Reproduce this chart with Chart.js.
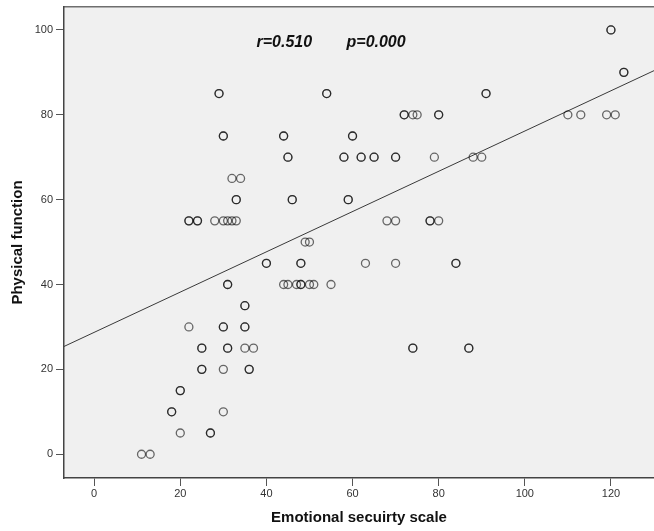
<!DOCTYPE html>
<html>
<head>
<meta charset="utf-8">
<script src="https://cdn.jsdelivr.net/npm/chart.js@4/dist/chart.umd.min.js"></script>
<style>
  html, body { margin: 0; padding: 0; background: #ffffff; }
  #wrap { width: 654px; height: 531px; }
</style>
</head>
<body>
<div id="wrap"><canvas id="c" width="654" height="531"></canvas></div>
<script>
// Emotional security scale (x) and Physical function (y); repeated pairs are overlapping observations
const emotionalSecurity = [
  120,120, 123,123,
  29,29, 54,54, 91,91,
  72,72, 74, 75, 80,80, 110, 113, 119, 121,
  30,30, 44,44, 60,60,
  45,45, 58,58, 62,62, 65,65, 70,70, 79, 88, 90,
  32, 34,
  33,33, 46,46, 59,59,
  22,22, 24,24, 28, 30, 31, 32, 33, 68, 70, 78,78, 80,
  49, 50,
  40,40, 48,48, 63, 70, 84,84,
  31,31, 44, 45, 47, 48,48, 50, 51, 55,
  35,35,
  22, 30,30, 35,35,
  25,25, 31,31, 35, 37, 74,74, 87,87,
  25,25, 30, 36,36,
  20,20,
  18,18, 30,
  20, 27,27,
  11, 13
];
const physicalFunction = [
  100,100, 90,90,
  85,85, 85,85, 85,85,
  80,80, 80, 80, 80,80, 80, 80, 80, 80,
  75,75, 75,75, 75,75,
  70,70, 70,70, 70,70, 70,70, 70,70, 70, 70, 70,
  65, 65,
  60,60, 60,60, 60,60,
  55,55, 55,55, 55, 55, 55, 55, 55, 55, 55, 55,55, 55,
  50, 50,
  45,45, 45,45, 45, 45, 45,45,
  40,40, 40, 40, 40, 40,40, 40, 40, 40,
  35,35,
  30, 30,30, 30,30,
  25,25, 25,25, 25, 25, 25,25, 25,25,
  20,20, 20, 20,20,
  15,15,
  10,10, 10,
  5, 5,5,
  0, 0
];
// Fit line end points
const fitLineX = [-7, 130];
const fitLineY = [25.4, 90.4];
// Axis ranges and ticks
const xRange = [-7, 130];
const yRange = [-5.6, 105.4];
const xTickValues = [0, 20, 40, 60, 80, 100, 120];
const yTickValues = [0, 20, 40, 60, 80, 100];
// Annotation
const annotationText = ['r=0.510', 'p=0.000'];
const annotationX = [37.7, 58.6];
const annotationY = 95.9;
const xTitle = 'Emotional secuirty scale';
const yTitle = 'Physical function';

const points = emotionalSecurity.map((x, i) => ({x: x, y: physicalFunction[i]}));
const fitPoints = fitLineX.map((x, i) => ({x: x, y: fitLineY[i]}));

const FONT = '"Liberation Sans", Arial, Helvetica, sans-serif';

const plotBg = {
  id: 'plotBg',
  beforeDraw(chart) {
    const {ctx, chartArea: a} = chart;
    ctx.save();
    ctx.fillStyle = '#f0f0f0';
    ctx.fillRect(a.left, a.top, a.right - a.left, a.bottom - a.top);
    ctx.strokeStyle = '#6e6e6e';
    ctx.lineWidth = 1.5;
    ctx.beginPath();
    ctx.moveTo(a.left, a.top - 0.25);
    ctx.lineTo(a.right, a.top - 0.25);
    ctx.stroke();
    ctx.restore();
  },
  afterDatasetsDraw(chart) {
    const {ctx} = chart;
    const xs = chart.scales.x, ys = chart.scales.y;
    ctx.save();
    ctx.fillStyle = '#111';
    ctx.font = 'italic bold 16px ' + FONT;
    ctx.textBaseline = 'alphabetic';
    ctx.textAlign = 'left';
    annotationText.forEach((t, i) => {
      ctx.fillText(t, xs.getPixelForValue(annotationX[i]), ys.getPixelForValue(annotationY));
    });
    ctx.restore();
  }
};

new Chart(document.getElementById('c'), {
  type: 'scatter',
  data: {
    datasets: [
      {
        type: 'line',
        data: fitPoints,
        borderColor: '#3a3a3a',
        borderWidth: 1,
        pointRadius: 0,
        fill: false,
        order: 2
      },
      {
        data: points,
        pointStyle: 'circle',
        pointRadius: 4,
        pointBorderWidth: 1.3,
        pointBackgroundColor: 'rgba(0,0,0,0)',
        pointBorderColor: 'rgba(0,0,0,0.58)',
        order: 1
      }
    ]
  },
  options: {
    responsive: false,
    animation: false,
    layout: { autoPadding: false, padding: { top: 7, right: 0, bottom: 0, left: 0 } },
    plugins: { legend: { display: false }, tooltip: { enabled: false } },
    scales: {
      x: {
        type: 'linear',
        min: xRange[0], max: xRange[1],
        afterBuildTicks: s => { s.ticks = xTickValues.map(v => ({value: v})); },
        afterFit: s => { s.height = 53; s.paddingLeft = 0; s.paddingRight = 0; },
        grid: { drawOnChartArea: false, drawTicks: true, tickLength: 8, color: '#555', lineWidth: 1 },
        border: { display: true, color: '#444', width: 1.5 },
        ticks: { color: '#333', font: { family: FONT, size: 11 }, padding: 1, maxRotation: 0 },
        title: { display: true, text: xTitle, color: '#111', font: { family: FONT, size: 15, weight: 'bold' }, padding: { top: 0, bottom: 4 } }
      },
      y: {
        type: 'linear',
        min: yRange[0], max: yRange[1],
        afterBuildTicks: s => { s.ticks = yTickValues.map(v => ({value: v})); },
        afterFit: s => { s.width = 64; s.paddingTop = 0; s.paddingBottom = 0; },
        grid: { drawOnChartArea: false, drawTicks: true, tickLength: 8, color: '#555', lineWidth: 1 },
        border: { display: true, color: '#444', width: 1.5 },
        ticks: { color: '#333', font: { family: FONT, size: 11 }, padding: 3 },
        title: { display: true, text: yTitle, color: '#111', font: { family: FONT, size: 15, weight: 'bold' }, padding: { top: 9, bottom: 0 } }
      }
    }
  },
  plugins: [plotBg]
});
</script>
</body>
</html>
